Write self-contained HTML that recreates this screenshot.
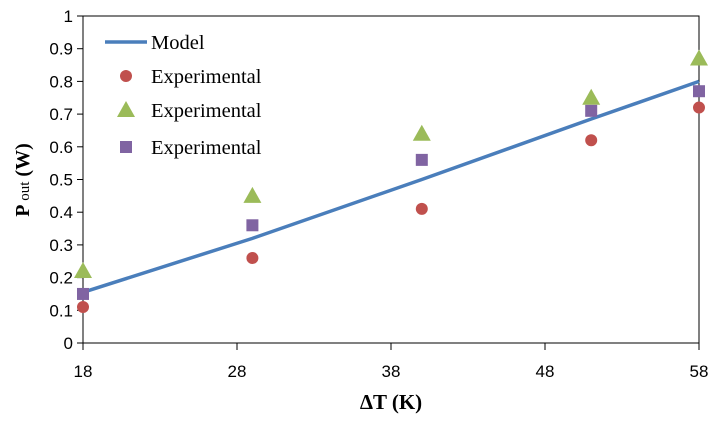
<!DOCTYPE html>
<html><head><meta charset="utf-8"><style>
body{margin:0;background:#fff;}
svg text{font-family:"Liberation Sans",sans-serif;}
.serif{font-family:"Liberation Serif",serif !important;}
</style></head><body>
<svg width="719" height="417" xmlns="http://www.w3.org/2000/svg">
<g id="axes"></g>
<g id="marks"></g>
<g>
 <line x1="105" y1="42" x2="147" y2="42" stroke="#4a7ebb" stroke-width="3.5"/>
 <text class="serif" x="151" y="49" font-size="20.5">Model</text>
 <circle cx="126" cy="76" r="6" fill="#c0504d"/>
 <text class="serif" x="151" y="83" font-size="20.5">Experimental</text>
 <polygon points="126,101 135,117 117,117" fill="#9bbb59"/>
 <text class="serif" x="151" y="117" font-size="20.5">Experimental</text>
 <rect x="120" y="141" width="12" height="12" fill="#8064a2"/>
 <text class="serif" x="151" y="154" font-size="20.5">Experimental</text>
</g>
<text class="serif" x="391" y="409" font-size="21" font-weight="bold" text-anchor="middle">ΔT (K)</text>
<text class="serif" transform="translate(29,180) rotate(-90)" font-size="20" font-weight="bold" text-anchor="middle">P<tspan font-size="15" font-weight="normal"> out</tspan> (W)</text>
</svg>
<script>
const xVals=[18,29,40,51,58];
const modelVals=[0.155,0.32,0.5,0.685,0.8];
const redVals=[0.11,0.26,0.41,0.62,0.72];
const greenVals=[0.22,0.45,0.64,0.75,0.87];
const purpleVals=[0.15,0.36,0.56,0.71,0.77];
const xTicks=[18,28,38,48,58];
const yTicks=[0,0.1,0.2,0.3,0.4,0.5,0.6,0.7,0.8,0.9,1];
const yTickLabels=["0","0.1","0.2","0.3","0.4","0.5","0.6","0.7","0.8","0.9","1"];
const NS="http://www.w3.org/2000/svg";
const L=83,R=699,T=16,B=343;
const sx=v=>L+(v-18)/(58-18)*(R-L);
const sy=v=>B-v*(B-T);
function mk(tag,attrs,parent){const e=document.createElementNS(NS,tag);for(const k in attrs)e.setAttribute(k,attrs[k]);parent.appendChild(e);return e;}
const ax=document.getElementById('axes'),mg=document.getElementById('marks');
let e=mk('rect',{x:L,y:T,width:R-L,height:B-T,fill:'none',stroke:'#000','stroke-width':1},ax);


yTicks.forEach((v,i)=>{
 let t=mk('line',{x1:L-6,x2:L,y1:sy(v),y2:sy(v),stroke:'#000'},ax);
 
 
 let l=mk('text',{x:L-10,y:sy(v)+6,'font-size':17,'text-anchor':'end'},ax);l.textContent=yTickLabels[i];
 
 
});
xTicks.forEach(v=>{
 let t=mk('line',{x1:sx(v),x2:sx(v),y1:B,y2:B+7,stroke:'#000'},ax);
 
 
 let l=mk('text',{x:sx(v),y:B+34,'font-size':17,'text-anchor':'middle'},ax);l.textContent=v;
 
 
});
let p=mk('polyline',{points:xVals.map((x,i)=>sx(x)+','+sy(modelVals[i])).join(' '),fill:'none',stroke:'#4a7ebb','stroke-width':3.5},mg);


xVals.forEach((x,i)=>{
 const cx=sx(x);
 let c=mk('circle',{cx:cx,cy:sy(redVals[i]),r:6,fill:'#c0504d'},mg);
 
 
 const gy=sy(greenVals[i]);
 let t=mk('polygon',{points:`${cx},${gy-9} ${cx+9},${gy+7} ${cx-9},${gy+7}`,fill:'#9bbb59'},mg);
 
 
 let s=mk('rect',{x:cx-6,y:sy(purpleVals[i])-6,width:12,height:12,fill:'#8064a2'},mg);
 
 
});
</script>
</body></html>
